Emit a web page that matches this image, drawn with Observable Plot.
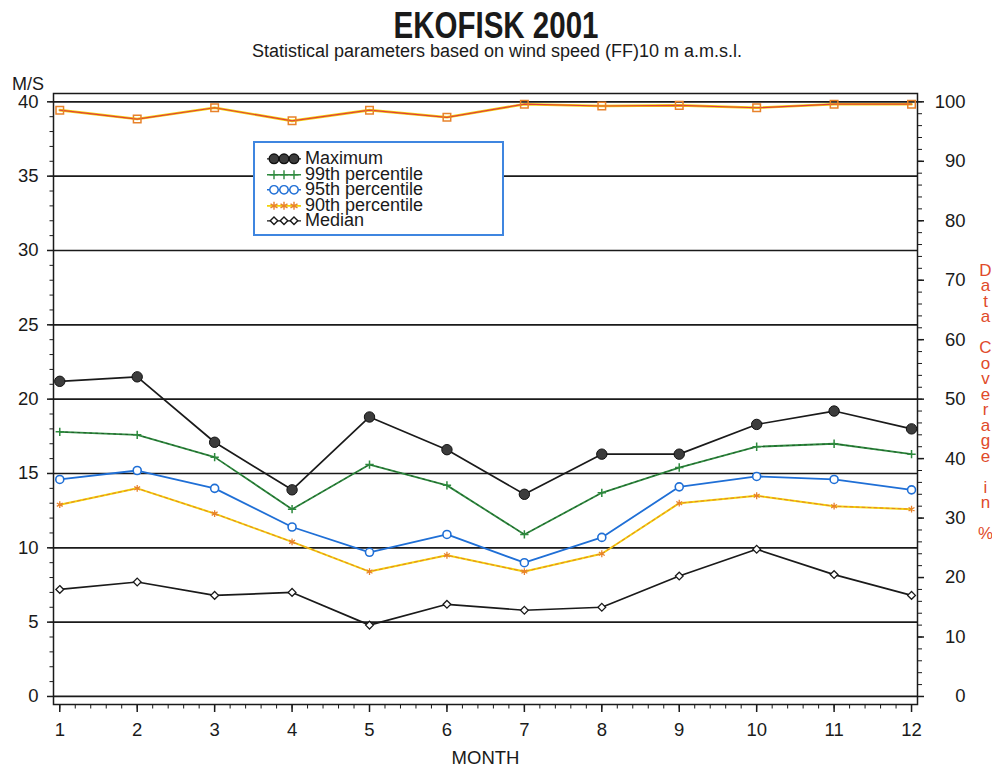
<!DOCTYPE html>
<html>
<head>
<meta charset="utf-8">
<script src="https://cdn.jsdelivr.net/npm/d3@7"></script>
<script src="https://cdn.jsdelivr.net/npm/@observablehq/plot@0.6"></script>
<style>
  body { margin: 0; background: #fff; font-family: "Liberation Sans", Arial, sans-serif; color: #1a1a1a; }
  #wrap { position: relative; width: 992px; height: 768px; overflow: hidden; }
  #head { position: relative; height: 70px; }
  #title { position: absolute; left: 0; width: 992px; top: 8px; text-align: center; font-weight: bold;
           font-size: 36px; line-height: 36px; transform: scaleX(0.82); transform-origin: 496px 0; color: #1a1a1a; }
  #subtitle { position: absolute; left: 0; width: 994px; top: 42px; text-align: center; font-size: 18px;
              line-height: 18px; color: #1a1a1a; }
  #legend { position: absolute; left: 253px; top: 141px; width: 247px; height: 83px; background: #fff;
            border: 2px solid #3f86e0; padding-top: 8px; box-sizing: content-box; }
  .row { position: relative; height: 15.6px; line-height: 15.6px; font-size: 18px; white-space: nowrap; }
  .row svg { position: absolute; left: 0; top: 0; }
  .row span { position: absolute; left: 50px; top: 0; }
</style>
</head>
<body>
<div id="wrap">
  <div id="head">
    <div id="title">EKOFISK 2001</div>
    <div id="subtitle">Statistical parameters based on wind speed (FF)10 m a.m.s.l.</div>
  </div>
  <div id="chart"></div>
  <div id="legend"></div>
</div>
<script>
// ---- data ----
const months = [1, 2, 3, 4, 5, 6, 7, 8, 9, 10, 11, 12];
const maximum = [21.2, 21.5, 17.1, 13.9, 18.8, 16.6, 13.6, 16.3, 16.3, 18.3, 19.2, 18.0];
const p99 = [17.8, 17.6, 16.1, 12.6, 15.6, 14.2, 10.9, 13.7, 15.4, 16.8, 17.0, 16.3];
const p95 = [14.6, 15.2, 14.0, 11.4, 9.7, 10.9, 9.0, 10.7, 14.1, 14.8, 14.6, 13.9];
const p90 = [12.9, 14.0, 12.3, 10.4, 8.4, 9.5, 8.4, 9.6, 13.0, 13.5, 12.8, 12.6];
const median = [7.2, 7.7, 6.8, 7.0, 4.8, 6.2, 5.8, 6.0, 8.1, 9.9, 8.2, 6.8];
const coverage = [98.6, 97.1, 99.0, 96.8, 98.6, 97.4, 99.6, 99.3, 99.4, 99.0, 99.6, 99.6]; // percent
const yTicks = [0, 5, 10, 15, 20, 25, 30, 35, 40];
const pctTicks = [0, 10, 20, 30, 40, 50, 60, 70, 80, 90, 100];
const legendLabels = ["Maximum", "99th percentile", "95th percentile", "90th percentile", "Median"];

// right axis: 100 % shares the position of 40 m/s
const pctToMs = p => p * 0.4;

const table = arr => months.map((m, i) => ({month: m, value: arr[i]}));
const tMax = table(maximum), t99 = table(p99), t95 = table(p95), t90 = table(p90), tMed = table(median);
const tCov = table(coverage.map(pctToMs));

const minorY = d3.range(0, 41, 1);
const minorPct = d3.range(0, 101, 2).map(pctToMs);
const minorX = d3.range(0, 56).map(i => 1 + i / 5);

const ink = "#1a1a1a";
const green = "#2e8a3e", blue = "#1f6fd6", yellow = "#f2d20a", orange = "#e8822a", red = "#e0403a";

const chart = Plot.plot({
  width: 992,
  height: 698,
  marginTop: 23,
  marginBottom: 64,
  marginLeft: 53,
  marginRight: 75,
  style: {fontFamily: "'Liberation Sans', Arial, sans-serif", fontSize: "18.5px", color: ink, background: "#fff"},
  x: {domain: [0.919, 12.077]},
  y: {domain: [-0.54, 40.56]},
  marks: [
    Plot.gridY(yTicks, {stroke: ink, strokeOpacity: 1, strokeWidth: 1.7}),
    Plot.frame({stroke: ink, strokeWidth: 1.5}),
    // left axis
    Plot.axisY(minorY, {anchor: "left", tickSize: 3.5, tickFormat: () => "", label: null, stroke: ink}),
    Plot.axisY(yTicks, {anchor: "left", tickSize: 6, tickPadding: 9, label: null, fontSize: 18.5, stroke: ink, strokeWidth: 1.5}),
    // right axis (percent)
    Plot.axisY(minorPct, {anchor: "right", tickSize: 4, tickFormat: () => "", label: null, stroke: ink}),
    Plot.axisY(pctTicks.map(pctToMs), {anchor: "right", tickSize: 6, tickPadding: 42, textAnchor: "end",
      tickFormat: d => String(Math.round(d / 0.4)), label: null, fontSize: 18.5, stroke: ink, strokeWidth: 1.5}),
    // bottom axis
    Plot.axisX(minorX, {anchor: "bottom", tickSize: 4.5, tickFormat: () => "", label: null, stroke: ink}),
    Plot.axisX(months, {anchor: "bottom", tickSize: 8, tickPadding: 10, label: null, fontSize: 18.5, stroke: ink, strokeWidth: 1.5}),
    // coverage
    Plot.line(tCov, {x: "month", y: "value", stroke: yellow, strokeWidth: 2.6}),
    Plot.line(tCov, {x: "month", y: "value", stroke: red, strokeWidth: 1.2}),
    Plot.dot(tCov, {x: "month", y: "value", symbol: "square2", r: 4.8, stroke: orange, strokeWidth: 1.5, fill: "none"}),
    // median
    Plot.line(tMed, {x: "month", y: "value", stroke: ink, strokeWidth: 1.7}),
    Plot.dot(tMed, {x: "month", y: "value", symbol: "diamond2", r: 3.5, stroke: ink, strokeWidth: 1.3, fill: "#fff"}),
    // 90th
    Plot.line(t90, {x: "month", y: "value", stroke: yellow, strokeWidth: 2}),
    Plot.line(t90, {x: "month", y: "value", stroke: orange, strokeWidth: 1, strokeDasharray: "3,3"}),
    Plot.dot(t90, {x: "month", y: "value", symbol: "asterisk", r: 3.2, stroke: orange, strokeWidth: 1.3}),
    // 95th
    Plot.line(t95, {x: "month", y: "value", stroke: blue, strokeWidth: 1.8}),
    Plot.dot(t95, {x: "month", y: "value", symbol: "circle", r: 4, stroke: blue, strokeWidth: 1.6, fill: "#fff"}),
    // 99th
    Plot.line(t99, {x: "month", y: "value", stroke: green, strokeWidth: 1.8}),
    Plot.line(t99, {x: "month", y: "value", stroke: "#1c4d25", strokeWidth: 0.8, strokeDasharray: "2,4"}),
    Plot.dot(t99, {x: "month", y: "value", symbol: "plus", r: 2.8, stroke: green, strokeWidth: 1.5}),
    // maximum
    Plot.line(tMax, {x: "month", y: "value", stroke: ink, strokeWidth: 1.7}),
    Plot.dot(tMax, {x: "month", y: "value", symbol: "circle", r: 5.2, stroke: "#111", strokeWidth: 1, fill: "#3c3c3c"}),
    // labels
    Plot.text(["M/S"], {frameAnchor: "top-left", dx: -25.5, dy: -9, textAnchor: "middle", lineAnchor: "middle", fontSize: 18, fill: ink}),
    Plot.text(["MONTH"], {frameAnchor: "bottom", dy: 54, textAnchor: "middle", lineAnchor: "middle", fontSize: 18.5, fill: ink}),
    Plot.text(["D\na\nt\na\n\nC\no\nv\ne\nr\na\ng\ne\n\ni\nn\n\n%"], {frameAnchor: "right", dx: 68, dy: 3.5,
      textAnchor: "middle", lineAnchor: "middle", lineHeight: 0.91, fontSize: 17, fill: "#e04a2a"})
  ]
});
document.getElementById("chart").appendChild(chart);

// ---- legend (HTML overlay, symbols from d3.symbol) ----
const legendStyles = [
  {type: d3.symbolCircle, r: 4.8, fill: "#3c3c3c", stroke: "#111", line: ink, lw: 1.2},
  {type: d3.symbolPlus, r: 3, fill: "none", stroke: green, line: green, lw: 1.5},
  {type: d3.symbolCircle, r: 4.2, fill: "#fff", stroke: blue, line: blue, lw: 1.5},
  {type: d3.symbolAsterisk, r: 3.8, fill: "none", stroke: orange, line: yellow, lw: 1.8},
  {type: d3.symbolDiamond2, r: 3.4, fill: "#fff", stroke: ink, line: ink, lw: 1.2}
];
const legend = d3.select("#legend");
legendLabels.forEach((label, i) => {
  const s = legendStyles[i];
  const row = legend.append("div").attr("class", "row");
  const svg = row.append("svg").attr("width", 48).attr("height", 16);
  svg.append("line").attr("x1", 12).attr("x2", 46).attr("y1", 7.8).attr("y2", 7.8)
    .attr("stroke", s.line).attr("stroke-width", s.lw);
  [19, 29, 39].forEach(cx => {
    svg.append("path")
      .attr("transform", `translate(${cx},7.8)`)
      .attr("d", d3.symbol(s.type, Math.PI * s.r * s.r)())
      .attr("fill", s.fill).attr("stroke", s.stroke).attr("stroke-width", 1.4);
  });
  row.append("span").text(label);
});
</script>
</body>
</html>
